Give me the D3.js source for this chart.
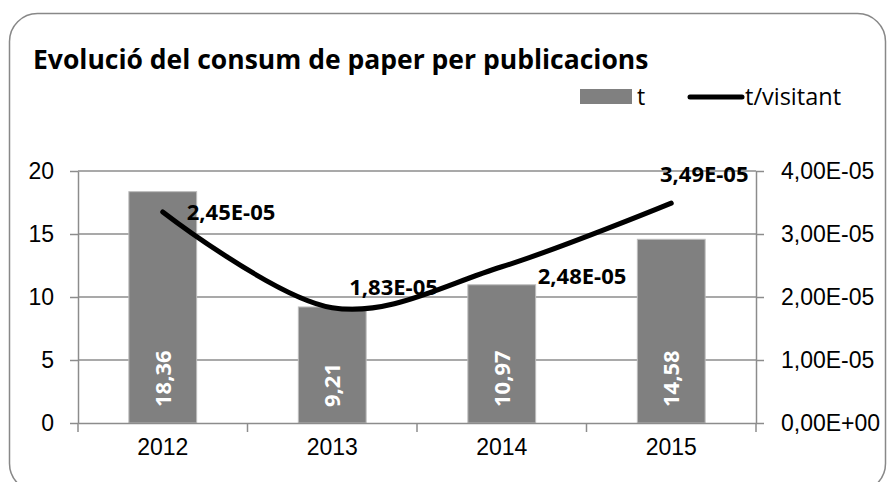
<!DOCTYPE html>
<html>
<head>
<meta charset="utf-8">
<script src="https://cdn.jsdelivr.net/npm/d3@7"></script>
<style>
  body { margin: 0; background: #fff; }
  svg { display: block; font-family: "Open Sans", sans-serif; }
  .grid line { stroke: #8c8c8c; stroke-width: 1.5; }
  .axis path, .axis line { stroke: #8c8c8c; stroke-width: 1.5; }
  .axis text { fill: #000; font-size: 23px; }
</style>
</head>
<body>
<div id="chart"></div>
<script>
// data
var years = ["2012", "2013", "2014", "2015"];
var tonnes = [18.36, 9.21, 10.97, 14.58];
var tonnesLabels = ["18,36", "9,21", "10,97", "14,58"];
var perVisitor = [3.35e-5, 1.83e-5, 2.48e-5, 3.49e-5];
var perVisitorLabels = ["2,45E-05", "1,83E-05", "2,48E-05", "3,49E-05"];
var leftTicks = [0, 5, 10, 15, 20];
var rightTicks = [0, 1e-5, 2e-5, 3e-5, 4e-5];
var rightTickLabels = ["0,00E+00", "1,00E-05", "2,00E-05", "3,00E-05", "4,00E-05"];

function draw() {
    var width = 887, height = 482;
    var m = { left: 78, right: 131, top: 171, bottom: 59 };

    var svg = d3.select("#chart")
        .append("svg")
        .attr("width", width)
        .attr("height", height);

    // chart frame
    svg.append("rect")
        .attr("x", 9.5).attr("y", 13.5)
        .attr("width", 876).attr("height", 478)
        .attr("rx", 28).attr("ry", 28)
        .style("fill", "#fff")
        .style("stroke", "#888")
        .style("stroke-width", 1.5);

    svg.append("text")
        .attr("x", 33).attr("y", 69)
        .style("font-size", "26.5px")
        .style("font-weight", "bold")
        .text("Evolució del consum de paper per publicacions");

    var x = d3.scaleBand()
        .domain(years)
        .range([m.left, width - m.right])
        .paddingInner(0.6)
        .paddingOuter(0.3);

    var xOuter = d3.scaleBand()
        .domain(years)
        .range([m.left, width - m.right]);

    var y = d3.scaleLinear()
        .domain([0, 20])
        .range([height - m.bottom, m.top]);

    var y2 = d3.scaleLinear()
        .domain([0, 4e-5])
        .range([height - m.bottom, m.top]);

    var g = svg.append("g");

    // gridlines
    g.append("g")
        .attr("class", "grid")
        .selectAll("line")
        .data(leftTicks.slice(1))
      .enter().append("line")
        .attr("x1", m.left).attr("x2", width - m.right)
        .attr("y1", function(d) { return y(d); })
        .attr("y2", function(d) { return y(d); });

    // bars
    g.selectAll("rect.bar")
        .data(tonnes)
      .enter().append("rect")
        .attr("class", "bar")
        .attr("x", function(d, i) { return x(years[i]); })
        .attr("width", x.bandwidth())
        .attr("y", function(d) { return y(d); })
        .attr("height", function(d) { return y(0) - y(d); })
        .style("fill", "#808080")
        .style("stroke", "#bdbdbd")
        .style("stroke-width", 1);

    // bar labels
    g.selectAll("text.barlabel")
        .data(tonnesLabels)
      .enter().append("text")
        .attr("class", "barlabel")
        .attr("transform", function(d, i) {
            return "translate(" + (x(years[i]) + x.bandwidth() / 2 + 8) + "," + (y(0) - 16) + ") rotate(-90)";
        })
        .style("fill", "#fff")
        .style("font-size", "22px")
        .style("font-weight", "bold")
        .text(function(d) { return d; });

    // axes
    g.append("g")
        .attr("class", "axis")
        .attr("transform", "translate(" + m.left + ",0)")
        .call(d3.axisLeft(y).tickValues(leftTicks).tickSize(8).tickPadding(16).tickSizeOuter(0));

    g.append("g")
        .attr("class", "axis")
        .attr("transform", "translate(" + (width - m.right) + ",0)")
        .call(d3.axisRight(y2).tickValues(rightTicks).tickSize(8).tickPadding(17).tickSizeOuter(0)
            .tickFormat(function(d, i) { return rightTickLabels[i]; }));

    var xAxis = g.append("g")
        .attr("class", "axis")
        .attr("transform", "translate(0," + y(0) + ")")
        .call(d3.axisBottom(xOuter).tickSize(0).tickPadding(16).tickSizeOuter(0));
    xAxis.selectAll(".boundary")
        .data(years.concat(["end"]))
      .enter().append("line")
        .attr("class", "boundary")
        .attr("x1", function(d, i) { return m.left + i * xOuter.step(); })
        .attr("x2", function(d, i) { return m.left + i * xOuter.step(); })
        .attr("y1", 0).attr("y2", 9);

    // line series
    var line = d3.line()
        .x(function(d, i) { return x(years[i]) + x.bandwidth() / 2; })
        .y(function(d) { return y2(d); })
        .curve(d3.curveCardinal.tension(0));

    g.append("path")
        .datum(perVisitor)
        .attr("d", line)
        .style("fill", "none")
        .style("stroke", "#000")
        .style("stroke-width", 5)
        .style("stroke-linecap", "round");

    // label offsets relative to each point (labels were placed by hand)
    var labelOffsets = [[24, 0, "start"], [17, -20, "start"], [36, 10, "start"], [33, -29, "middle"]];
    g.selectAll("text.linelabel")
        .data(perVisitorLabels)
      .enter().append("text")
        .attr("class", "linelabel")
        .attr("x", function(d, i) { return x(years[i]) + x.bandwidth() / 2 + labelOffsets[i][0]; })
        .attr("y", function(d, i) { return y2(perVisitor[i]) + labelOffsets[i][1]; })
        .attr("dy", "0.35em")
        .attr("text-anchor", function(d, i) { return labelOffsets[i][2]; })
        .style("font-size", "22px")
        .style("font-weight", "bold")
        .text(function(d) { return d; });

    // legend
    var legend = svg.append("g").attr("transform", "translate(0,97)");
    legend.append("rect")
        .attr("x", 580).attr("y", -8).attr("width", 52).attr("height", 15)
        .style("fill", "#808080");
    legend.append("text")
        .attr("x", 637).attr("dy", "0.35em")
        .style("font-size", "23px")
        .text("t");
    legend.append("line")
        .attr("x1", 690).attr("x2", 742)
        .style("stroke", "#000").style("stroke-width", 5).style("stroke-linecap", "round");
    legend.append("text")
        .attr("x", 745).attr("dy", "0.35em")
        .style("font-size", "23.5px")
        .text("t/visitant");
}
draw();
</script>
</body>
</html>
